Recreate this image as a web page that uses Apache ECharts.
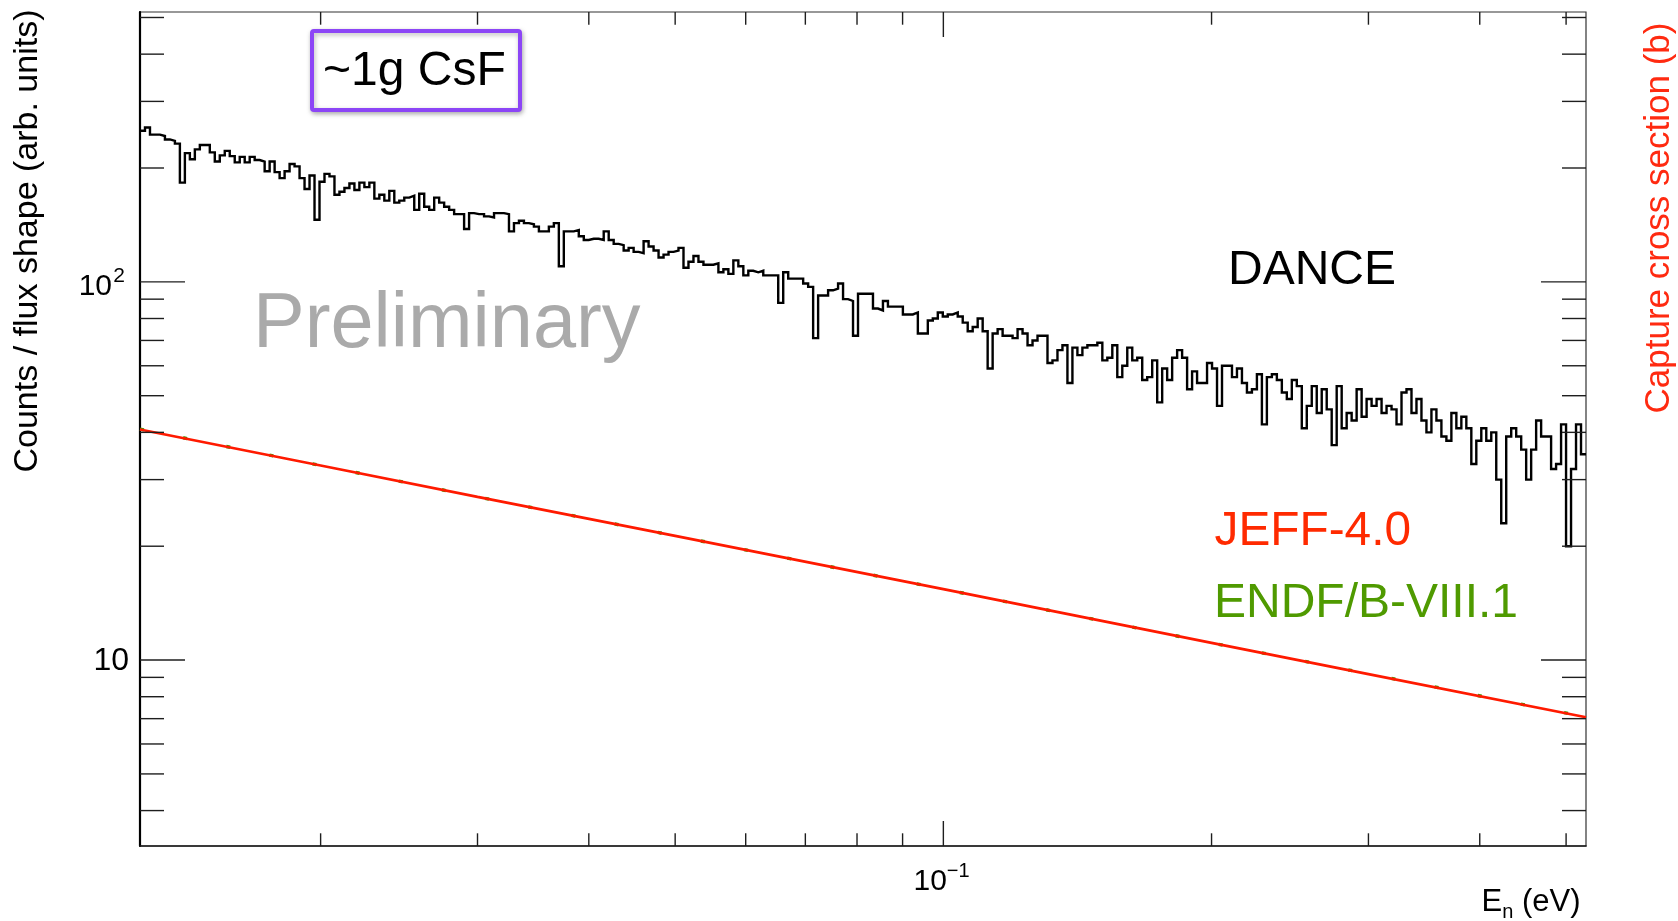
<!DOCTYPE html>
<html>
<head>
<meta charset="utf-8">
<script src="https://cdn.jsdelivr.net/npm/echarts@6/dist/echarts.min.js"></script>
<style>html,body{margin:0;padding:0;background:#fff}#c{width:1678px;height:921px}</style>
</head>
<body>
<div id="c"></div>
<script>
// ---- axis ranges ----
const xRange = [0.01254, 0.5264];   // E_n (eV)
const yRange = [3.224, 517];

// ---- DANCE histogram: uniform log-E bins over this range ----
const danceBinRange = [0.01254, 0.5264];
const danceCounts = [
  251,256,245,245,243,238,236,232,183,219,
  211,224,230,230,220,208,216,222,215,207,
  214,207,214,210,208,196,208,195,188,196,
  205,202,188,176,191,146,184,193,190,170,
  173,177,182,175,183,178,183,166,170,164,
  174,162,164,167,169,155,171,158,155,167,
  162,158,155,151,151,138,152,151,151,149,
  148,152,152,151,136,143,145,143,142,140,
  136,136,140,143,110,136,136,137,132,129,
  130,130,129,136,129,126,125,121,123,120,
  119,128,124,121,116,118,120,121,123,109,
  113,117,113,111,111,112,106,108,105,114,
  110,104,107,106,107,104,104,104,88,106,
  102,102,102,99,97,71,92,92,95,96,
  99,90,89,72,93,93,93,85,84,89,
  86,86,86,82,82,83,73,73,79,80,
  83,81,82,83,81,78,74,76,80,74,
  59,73,75,72,72,71,75,73,68,70,
  72,72,61,62,66,68,54,67,64,67,
  68,68,69,62,63,68,56,60,67,62,
  63,55,56,62,48,59,55,63,66,63,
  52,58,54,54,61,59,47,60,60,56,
  59,54,51,52,57,42,56,57,55,51,
  49,55,53,41,47,53,45,52,46,37,
  53,41,45,43,52,44,49,47,49,45,
  47,46,42,51,52,45,49,43,40,46,
  43,39,38,45,41,44,41,33,38,41,
  38,40,30,23,39,41,39,36,30,36,
  43,39,39,32,33,42,20,32,42,35
];

// ---- evaluated cross sections ----
const xsEnergies = [0.01254, 0.02, 0.03, 0.05, 0.1, 0.2, 0.3, 0.5264];
const jeffXS     = [40.7, 32.7, 27.0, 21.3, 15.4, 11.1, 9.18, 7.06];
const endfXS     = [40.8, 32.7, 27.0, 21.3, 15.4, 11.1, 9.2, 7.07];

// ---- ticks and tick labels ----
const xMajorTicks = [0.1];
const xMajorLabels = [['10', '\u22121']];
const xMinorTicks = [0.02,0.03,0.04,0.05,0.06,0.07,0.08,0.09,0.2,0.3,0.4,0.5];
const yMajorTicks = [10, 100];
const yMajorLabels = [['10', ''], ['10', '2']];
const yMinorTicks = [4,5,6,7,8,9,20,30,40,50,60,70,80,90,200,300,400,500];

const FONT = '"Liberation Sans", Arial, Helvetica, sans-serif';

// histogram step points
const nBins = danceCounts.length;
const lLo = Math.log10(danceBinRange[0]), lHi = Math.log10(danceBinRange[1]);
const binEdge = i => Math.pow(10, lLo + (lHi - lLo) * i / nBins);
const danceSteps = danceCounts.map((c, i) => [binEdge(i), c]);
danceSteps.push([binEdge(nBins), danceCounts[nBins - 1]]);

// tick descriptors: [x, y, kind, labelIndex]
const tickData = [];
yMinorTicks.forEach(v => tickData.push([xRange[0], v, 0, -1]));
yMajorTicks.forEach((v, i) => tickData.push([xRange[0], v, 1, i]));
xMinorTicks.forEach(v => tickData.push([v, yRange[0], 2, -1]));
xMajorTicks.forEach((v, i) => tickData.push([v, yRange[0], 3, i]));

function renderTick(params, api) {
  const xv = api.value(0), yv = api.value(1), kind = api.value(2), li = api.value(3);
  const st = { stroke: '#1e1e1e', lineWidth: 1.4 };
  const ch = [];
  if (kind < 2) {
    const len = kind === 1 ? 45 : 24;
    const pl = api.coord([xRange[0], yv]);
    const pr = api.coord([xRange[1], yv]);
    ch.push({ type: 'line', shape: { x1: pl[0], y1: pl[1], x2: pl[0] + len, y2: pl[1] }, style: st });
    ch.push({ type: 'line', shape: { x1: pr[0] - len, y1: pr[1], x2: pr[0], y2: pr[1] }, style: st });
    if (kind === 1) {
      const base = yMajorLabels[li][0], sup = yMajorLabels[li][1];
      if (sup) {
        ch.push({ type: 'text', style: { text: sup, x: pl[0] - 15, y: pl[1] - 5.5, font: '21px ' + FONT, fill: '#000', align: 'right', verticalAlign: 'middle' } });
        ch.push({ type: 'text', style: { text: base, x: pl[0] - 28, y: pl[1] + 4.5, font: '30px ' + FONT, fill: '#000', align: 'right', verticalAlign: 'middle' } });
      } else {
        ch.push({ type: 'text', style: { text: base, x: pl[0] - 11, y: pl[1] + 1.5, font: '32px ' + FONT, fill: '#000', align: 'right', verticalAlign: 'middle' } });
      }
    }
  } else {
    const len = kind === 3 ? 25 : 12.7;
    const pb = api.coord([xv, yRange[0]]);
    const pt = api.coord([xv, yRange[1]]);
    ch.push({ type: 'line', shape: { x1: pb[0], y1: pb[1], x2: pb[0], y2: pb[1] - len }, style: st });
    ch.push({ type: 'line', shape: { x1: pt[0], y1: pt[1], x2: pt[0], y2: pt[1] + len }, style: st });
    if (kind === 3) {
      const base = xMajorLabels[li][0], sup = xMajorLabels[li][1];
      ch.push({ type: 'text', style: { text: base, x: pb[0] + 3.5, y: pb[1] + 36, font: '30px ' + FONT, fill: '#000', align: 'right', verticalAlign: 'middle' } });
      ch.push({ type: 'text', style: { text: sup, x: pb[0] + 3.5, y: pb[1] + 25.5, font: '20px ' + FONT, fill: '#000', align: 'left', verticalAlign: 'middle' } });
    }
  }
  return { type: 'group', children: ch };
}

const chart = echarts.init(document.getElementById('c'), null, { renderer: 'canvas', width: 1678, height: 921 });
chart.setOption({
  animation: false,
  backgroundColor: '#ffffff',
  grid: { left: 140, right: 92, top: 12, bottom: 75, show: true, borderColor: '#333333', borderWidth: 1.2, backgroundColor: 'transparent' },
  xAxis: {
    type: 'log', logBase: 10, min: xRange[0], max: xRange[1],
    axisLine: { show: true, lineStyle: { color: '#1a1a1a', width: 1.6 } },
    axisTick: { show: false }, axisLabel: { show: false }, splitLine: { show: false }, minorTick: { show: false }
  },
  yAxis: {
    type: 'log', logBase: 10, min: yRange[0], max: yRange[1],
    axisLine: { show: true, lineStyle: { color: '#000', width: 2.2 } },
    axisTick: { show: false }, axisLabel: { show: false }, splitLine: { show: false }, minorTick: { show: false }
  },
  series: [
    {
      name: 'ENDF/B-VIII.1', type: 'line', silent: true, symbol: 'none', showSymbol: false,
      data: xsEnergies.map((e, i) => [e, endfXS[i]]),
      lineStyle: { color: '#3c9b00', width: 3.4, type: [4, 40] }, z: 2
    },
    {
      name: 'JEFF-4.0', type: 'line', silent: true, symbol: 'none', showSymbol: false,
      data: xsEnergies.map((e, i) => [e, jeffXS[i]]),
      lineStyle: { color: '#ff1a00', width: 2.7 }, z: 3
    },
    {
      name: 'DANCE', type: 'line', silent: true, symbol: 'none', showSymbol: false, step: 'end',
      data: danceSteps,
      lineStyle: { color: '#000', width: 2.4, join: 'miter', cap: 'butt' }, z: 4
    },
    {
      name: 'ticks', type: 'custom', silent: true, clip: false, z: 10,
      renderItem: renderTick, data: tickData, encode: { x: 0, y: 1 }
    }
  ],
  graphic: [
    { type: 'text', x: 27.5, y: 241, rotation: Math.PI / 2, silent: true,
      style: { text: 'Counts / flux shape (arb. units)', font: '34px ' + FONT, fill: '#000', align: 'center', verticalAlign: 'middle' } },
    { type: 'text', x: 1659, y: 218, rotation: Math.PI / 2, silent: true,
      style: { text: 'Capture cross section (b)', font: '35px ' + FONT, fill: '#ff2a10', align: 'center', verticalAlign: 'middle' } },
    { type: 'text', x: 1481.5, y: 902.3, silent: true, style: { text: 'E', font: '31px ' + FONT, fill: '#000', align: 'left', verticalAlign: 'middle' } },
    { type: 'text', x: 1502.2, y: 912, silent: true, style: { text: 'n', font: '20px ' + FONT, fill: '#000', align: 'left', verticalAlign: 'middle' } },
    { type: 'text', x: 1513.3, y: 902.3, silent: true, style: { text: ' (eV)', font: '31px ' + FONT, fill: '#000', align: 'left', verticalAlign: 'middle' } },
    { type: 'text', x: 253, y: 326, silent: true, style: { text: 'Preliminary', font: '77.5px ' + FONT, fill: '#aaaaaa', align: 'left', verticalAlign: 'middle' } },
    { type: 'text', x: 1228, y: 270.5, silent: true, style: { text: 'DANCE', font: '48px ' + FONT, fill: '#000', align: 'left', verticalAlign: 'middle' } },
    { type: 'text', x: 1214.5, y: 531.8, silent: true, style: { text: 'JEFF-4.0', font: '47.8px ' + FONT, fill: '#ff2a00', align: 'left', verticalAlign: 'middle' } },
    { type: 'text', x: 1214, y: 603.5, silent: true, style: { text: 'ENDF/B-VIII.1', font: '48px ' + FONT, fill: '#4f9a00', align: 'left', verticalAlign: 'middle' } },
    { type: 'rect', silent: true, shape: { x: 312, y: 31, width: 208, height: 79, r: 2 },
      style: { fill: '#fff', stroke: '#8c45f6', lineWidth: 4, shadowBlur: 5, shadowColor: 'rgba(0,0,0,0.28)', shadowOffsetX: 1, shadowOffsetY: 2 }, z: 20 },
    { type: 'text', x: 323, y: 71.7, silent: true, z: 21, style: { text: '~1g CsF', font: '48px ' + FONT, fill: '#000', align: 'left', verticalAlign: 'middle' } }
  ]
});
</script>
</body>
</html>
